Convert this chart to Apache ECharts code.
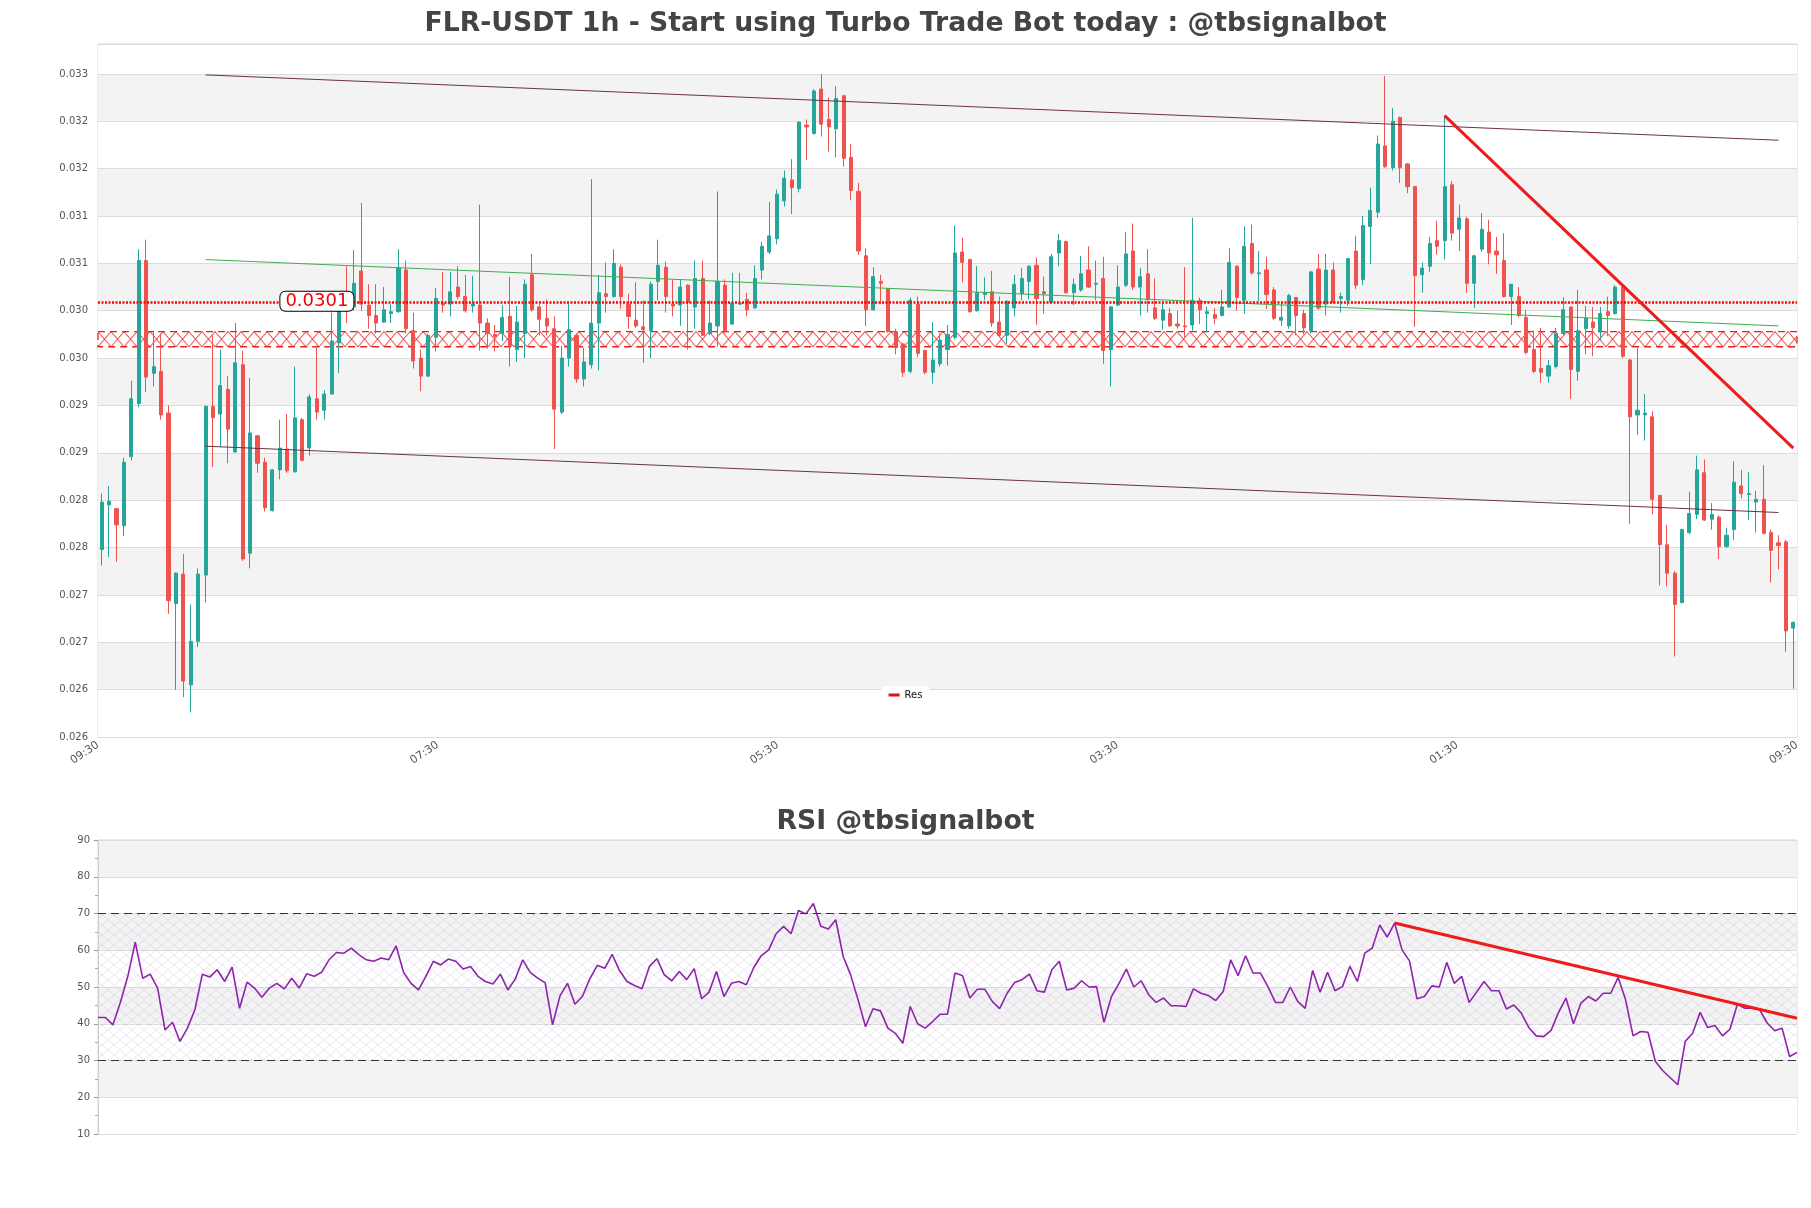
<!DOCTYPE html>
<html><head><meta charset="utf-8">
<script src="https://cdn.jsdelivr.net/npm/echarts@6/dist/echarts.min.js"></script>
<style>html,body{margin:0;padding:0;background:#fff}#c{width:1811px;height:1208px}</style>
</head><body><div id="c"></div>
<script>
const opens = [.02748,.02795,.02791,.02773,.02846,.02902,.03053,.02934,.02936,.02892,.02691,.02722,.02605,.02651,.02721,.02899,.02891,.02917,.02851,.02943,.02744,.02868,.02840,.02789,.02832,.02854,.02830,.02885,.02855,.02907,.02895,.02912,.02966,.03009,.03004,.03042,.03006,.02995,.02988,.02997,.02999,.03043,.02979,.02950,.02931,.02972,.03008,.03007,.03025,.03015,.03005,.03006,.02987,.02975,.02976,.02994,.02959,.02976,.03038,.03004,.02992,.02981,.02893,.02950,.02974,.02928,.02943,.02987,.03018,.03015,.03046,.03007,.02990,.02983,.02979,.03031,.03046,.03007,.03006,.03027,.03004,.03034,.02976,.02984,.03027,.02986,.03007,.03012,.03003,.03043,.03062,.03076,.03116,.03138,.03129,.03196,.03187,.03234,.03202,.03192,.03227,.03162,.03126,.03058,.03001,.03031,.03023,.02978,.02965,.02936,.03007,.02958,.02935,.02944,.02959,.02972,.03062,.03054,.03000,.03017,.03020,.02988,.02974,.03003,.03018,.03031,.03048,.03020,.03009,.03061,.03073,.03019,.03022,.03043,.03028,.03034,.02959,.03006,.03027,.03063,.03025,.03039,.03003,.02990,.02997,.02986,.02984,.02985,.03011,.02997,.02996,.02995,.03004,.03047,.03011,.03071,.03039,.03043,.03022,.02990,.02984,.03014,.02997,.02979,.03044,.03007,.03043,.03013,.03011,.03063,.03033,.03089,.03104,.03174,.03151,.03204,.03155,.03131,.03038,.03047,.03074,.03074,.03133,.03086,.03097,.03029,.03065,.03083,.03063,.03053,.03015,.03015,.02993,.02959,.02939,.02931,.02941,.02976,.03004,.02936,.02981,.02988,.02979,.02999,.02997,.03025,.02948,.02890,.02890,.02888,.02805,.02753,.02723,.02692,.02766,.02785,.02829,.02780,.02782,.02751,.02769,.02815,.02806,.02798,.02801,.02766,.02755,.02756,.02665];
const closes = [.02798,.02799,.02774,.02840,.02907,.03053,.02930,.02941,.02890,.02694,.02723,.02609,.02651,.02722,.02899,.02887,.02921,.02875,.02945,.02738,.02871,.02839,.02792,.02832,.02855,.02831,.02887,.02842,.02909,.02893,.02912,.02968,.03004,.03003,.03029,.03007,.02995,.02987,.03001,.02999,.03045,.02981,.02947,.02931,.02974,.03013,.03006,.03020,.03015,.03000,.03007,.02987,.02976,.02973,.02993,.02963,.02988,.03028,.03001,.02991,.02984,.02896,.02950,.02980,.02928,.02946,.02987,.03019,.03015,.03050,.03015,.02994,.02984,.02980,.03028,.03048,.03015,.03005,.03025,.03009,.03034,.02974,.02987,.03031,.02979,.03008,.03008,.03001,.03034,.03068,.03079,.03123,.03140,.03130,.03199,.03194,.03232,.03197,.03194,.03224,.03161,.03127,.03063,.03001,.03036,.03029,.02978,.02961,.02935,.03011,.02955,.02935,.02948,.02969,.02975,.03061,.03051,.02999,.03019,.03019,.02987,.02974,.03010,.03028,.03034,.03047,.03013,.03018,.03057,.03074,.03019,.03028,.03039,.03025,.03029,.02958,.03004,.03025,.03060,.03025,.03036,.03012,.02992,.03001,.02984,.02984,.02983,.03011,.03001,.02999,.02992,.03004,.03051,.03014,.03068,.03040,.03040,.03017,.02992,.02993,.03016,.02995,.02982,.03041,.03003,.03043,.03009,.03015,.03055,.03027,.03090,.03106,.03176,.03152,.03200,.03151,.03131,.03037,.03045,.03071,.03068,.03131,.03082,.03098,.03029,.03058,.03086,.03061,.03059,.03015,.03028,.02995,.02956,.02936,.02935,.02942,.02976,.03001,.02938,.02979,.02992,.02982,.02997,.02995,.03025,.02952,.02888,.02895,.02892,.02801,.02753,.02723,.02690,.02769,.02786,.02832,.02779,.02785,.02751,.02763,.02819,.02807,.02807,.02801,.02765,.02747,.02752,.02662,.02671];
const highs = [.02807,.02815,.02792,.02845,.02926,.03065,.03075,.02979,.02976,.02900,.02724,.02743,.02690,.02728,.02900,.02974,.02959,.02931,.02987,.02958,.02929,.02869,.02845,.02833,.02885,.02891,.02941,.02887,.02912,.02963,.02916,.02998,.03007,.03047,.03064,.03114,.03028,.03028,.03025,.03007,.03065,.03053,.02998,.02959,.02976,.03024,.03041,.03041,.03047,.03038,.03037,.03112,.02992,.02985,.03006,.03036,.03005,.03033,.03060,.03007,.03012,.02994,.02963,.03007,.02976,.02961,.03139,.03038,.03051,.03065,.03049,.03018,.03030,.03011,.03031,.03075,.03052,.03033,.03033,.03028,.03053,.03053,.03011,.03126,.03033,.03040,.03040,.03019,.03048,.03073,.03115,.03128,.03148,.03160,.03200,.03202,.03234,.03250,.03225,.03237,.03228,.03176,.03135,.03066,.03046,.03038,.03024,.02981,.02966,.03014,.03015,.02959,.02988,.02976,.02985,.03090,.03077,.03055,.03047,.03035,.03042,.03015,.03011,.03038,.03045,.03048,.03056,.03036,.03060,.03081,.03074,.03034,.03058,.03068,.03053,.03057,.03005,.03048,.03083,.03092,.03045,.03065,.03034,.03008,.03003,.03000,.03046,.03098,.03014,.03004,.03003,.03022,.03066,.03048,.03089,.03091,.03063,.03057,.03025,.03008,.03018,.03014,.03001,.03042,.03060,.03060,.03051,.03019,.03056,.03079,.03100,.03130,.03185,.03248,.03214,.03205,.03156,.03132,.03051,.03078,.03095,.03206,.03137,.03112,.03099,.03059,.03103,.03096,.03078,.03082,.03028,.03025,.03001,.02979,.02982,.02948,.02982,.03014,.03004,.03022,.03005,.03004,.03004,.03015,.03027,.03027,.02949,.02961,.02912,.02894,.02805,.02774,.02725,.02770,.02809,.02847,.02843,.02797,.02784,.02771,.02841,.02832,.02830,.02810,.02837,.02769,.02763,.02758,.02672];
const lows = [.02731,.02740,.02735,.02762,.02842,.02898,.02914,.02920,.02885,.02680,.02600,.02592,.02576,.02645,.02692,.02835,.02856,.02839,.02850,.02736,.02728,.02829,.02788,.02788,.02822,.02829,.02829,.02841,.02847,.02885,.02885,.02912,.02934,.02987,.03000,.03000,.02981,.02976,.02987,.02987,.02998,.02976,.02939,.02915,.02930,.02957,.02998,.02994,.03012,.02998,.02998,.02958,.02960,.02957,.02968,.02941,.02946,.02950,.02999,.02974,.02974,.02854,.02891,.02941,.02924,.02920,.02939,.02937,.02998,.03014,.03002,.02981,.02982,.02945,.02950,.03011,.02998,.02994,.02984,.02959,.02981,.02974,.02974,.02962,.02976,.02985,.03006,.02994,.03002,.03033,.03060,.03070,.03110,.03102,.03125,.03159,.03186,.03184,.03168,.03162,.03152,.03117,.03059,.02984,.03000,.03007,.02977,.02954,.02930,.02934,.02951,.02933,.02923,.02941,.02942,.02970,.03030,.02998,.02999,.03011,.02983,.02973,.02965,.02994,.03011,.03012,.02985,.02997,.03008,.03047,.03018,.03006,.03020,.03024,.03011,.02944,.02920,.03005,.03025,.03022,.02995,.02998,.02990,.02980,.02983,.02981,.02972,.02979,.02986,.02977,.02986,.02994,.03003,.03000,.02997,.03038,.03010,.03002,.02990,.02984,.02981,.02974,.02975,.02976,.03001,.02995,.03007,.02998,.03005,.03023,.03027,.03049,.03098,.03151,.03148,.03135,.03124,.02983,.03019,.03041,.03059,.03054,.03074,.03063,.03019,.03003,.03062,.03049,.03039,.03014,.02985,.02993,.02954,.02934,.02924,.02924,.02939,.02974,.02907,.02926,.02954,.02952,.02969,.02973,.02996,.02950,.02775,.02869,.02863,.02785,.02710,.02709,.02635,.02691,.02764,.02780,.02778,.02769,.02738,.02750,.02758,.02802,.02779,.02766,.02764,.02713,.02727,.02640,.02601];
const rsi = [41.7,41.7,39.7,45.8,52.9,62.2,52.4,53.5,49.7,38.3,40.4,35.2,38.8,43.8,53.5,52.7,54.7,51.5,55.4,44.2,51.3,49.7,47.2,49.7,51.0,49.5,52.4,49.7,53.6,52.9,54.0,57.4,59.4,59.2,60.6,58.8,57.4,57.0,57.9,57.4,61.2,54.0,51.0,49.2,52.9,57.0,56.0,57.6,57.0,54.9,55.6,52.9,51.5,50.8,53.5,49.2,52.2,57.4,54.0,52.4,51.2,39.7,47.6,51.0,45.3,47.4,52.2,55.9,55.1,58.9,54.4,51.5,50.4,49.5,55.6,57.7,53.3,51.7,54.2,52.0,55.0,46.8,48.6,54.2,47.4,51.0,51.5,50.6,55.3,58.5,60.1,64.5,66.5,64.5,70.8,69.9,72.7,66.5,65.8,68.3,58.3,53.3,46.5,39.2,44.1,43.5,38.8,37.4,34.7,44.7,40.0,38.8,40.6,42.6,42.6,53.8,53.1,47.0,49.4,49.4,46.1,44.1,48.3,51.2,52.0,53.5,49.0,48.6,54.7,57.0,49.2,49.7,51.7,50.0,50.1,40.4,47.4,50.9,54.9,50.0,51.7,47.9,45.8,47.0,44.9,44.9,44.7,49.5,48.3,47.7,46.3,48.8,57.4,53.1,58.5,53.8,53.8,50.1,45.8,45.8,50.0,46.1,44.2,54.5,48.6,54.0,49.0,50.1,55.6,51.5,59.2,60.6,66.9,63.6,67.4,60.1,57.1,46.8,47.4,50.3,50.0,56.7,51.0,52.9,45.8,48.6,51.5,49.0,49.0,44.0,45.1,42.9,39.0,36.7,36.5,38.2,43.1,47.0,40.0,45.6,47.4,46.2,48.3,48.3,52.6,46.5,36.7,37.9,37.7,29.7,27.2,25.3,23.4,35.2,37.4,43.1,39.0,39.5,36.7,38.5,45.3,44.2,44.2,43.8,40.2,38.1,38.8,31.1,32.2];

const xTickLabels = ['09:30', '07:30', '05:30', '03:30', '01:30', '09:30'];
const priceTickLabels = ['0.026','0.026','0.027','0.027','0.028','0.028','0.029','0.029','0.030','0.030','0.031','0.031','0.032','0.032','0.033'];
const priceMin = 0.0255, priceMax = 0.032816, priceStep = 0.0005;
const resLevel = 0.03009, resLabel = '0.0301';
const zoneHigh = 0.02978, zoneLow = 0.02962;
const channelUpper = [[14, 0.03249], [226, 0.03180]];
const channelMid = [[14, 0.03054], [226, 0.02984]];
const channelLower = [[14, 0.02857], [226, 0.02787]];
const priceTrend = [[181, 0.03206], [228, 0.02855]];
const rsiTrend = [[174, 67.4], [228, 41.5]];
const rsiLevels = [70, 30];

const idx = opens.map((_, i) => String(i));
const candleData = opens.map((o, i) => [o, closes[i], lows[i], highs[i]]);

function tile(w, h, color, lw) {
  const c = document.createElement('canvas'); c.width = w; c.height = h;
  const g = c.getContext('2d'); g.strokeStyle = color; g.lineWidth = lw;
  g.beginPath(); g.moveTo(0, 0); g.lineTo(w, h); g.moveTo(w, 0); g.lineTo(0, h); g.stroke();
  return c;
}
const rsiPattern = {image: tile(12, 10, 'rgba(185,165,210,0.42)', 0.7), repeat: 'repeat'};

const FONT = 'DejaVu Sans';
const bands = ['#ffffff', '#f3f3f3'];
const titleStyle = {fontFamily: FONT, fontSize: 26.7, fontWeight: 'bold', color: '#444'};

const chart = echarts.init(document.getElementById('c'), null, {renderer: 'canvas', width: 1811, height: 1208});
const option = {
  animation: false,
  backgroundColor: '#ffffff',
  title: [
    {text: 'FLR-USDT 1h - Start using Turbo Trade Bot today : @tbsignalbot', left: 'center', top: 11, padding: 0, textStyle: titleStyle},
    {text: 'RSI @tbsignalbot', left: 'center', top: 809, padding: 0, textStyle: titleStyle}
  ],
  legend: {data: [{name: 'Res', icon: 'rect'}], left: 'center', top: 686, itemWidth: 11, itemHeight: 3, itemGap: 6,
    padding: [4, 7], backgroundColor: '#ffffff', borderRadius: 3, selectedMode: false,
    textStyle: {fontFamily: FONT, fontSize: 10, color: '#111'}},
  grid: [
    {left: 98, top: 44, width: 1699, height: 693, show: true, borderColor: '#d6d6d6', borderWidth: 1, containLabel: false, outerBoundsMode: 'none'},
    {left: 98, top: 840, width: 1699, height: 294, show: true, borderColor: '#d6d6d6', borderWidth: 1, containLabel: false, outerBoundsMode: 'none'}
  ],
  xAxis: [
    {type: 'category', gridIndex: 0, data: idx, boundaryGap: true, axisLine: {show: false}, axisTick: {show: false}, axisLabel: {show: false}, splitLine: {show: false}},
    {type: 'value', gridIndex: 0, min: 0, max: 5, interval: 1, position: 'bottom', axisLine: {show: false}, axisTick: {show: false}, splitLine: {show: false},
      axisLabel: {formatter: v => xTickLabels[Math.round(v)] || '', rotate: 34, fontSize: 11, color: '#555', margin: 7, fontFamily: FONT}},
    {type: 'category', gridIndex: 1, data: idx, boundaryGap: false, axisLine: {show: false}, axisTick: {show: false}, axisLabel: {show: false}, splitLine: {show: false}}
  ],
  yAxis: [
    {type: 'value', gridIndex: 0, min: priceMin, max: priceMax, interval: priceStep, scale: true,
      axisLine: {show: false}, axisTick: {show: false},
      axisLabel: {fontSize: 10, color: '#555', margin: 10, fontFamily: FONT, formatter: v => {
        const k = Math.round((v - priceMin) / priceStep);
        if (Math.abs(v - (priceMin + k * priceStep)) > 1e-7) return '';
        return priceTickLabels[k] || '';
      }},
      splitLine: {show: true, lineStyle: {color: '#dcdcdc', width: 1}},
      splitArea: {show: true, areaStyle: {color: bands}}},
    {type: 'value', gridIndex: 1, min: 10, max: 90, interval: 10,
      axisLine: {show: true, lineStyle: {color: '#cfcfcf'}}, axisTick: {show: true, length: 4, lineStyle: {color: '#999'}},
      minorTick: {show: true, splitNumber: 2, length: 3, lineStyle: {color: '#aaa'}},
      axisLabel: {fontSize: 10, color: '#555', margin: 8, fontFamily: FONT},
      splitLine: {show: true, lineStyle: {color: '#dcdcdc', width: 1}},
      splitArea: {show: true, areaStyle: {color: bands}}}
  ],
  series: [
    {type: 'candlestick', name: 'FLR-USDT', xAxisIndex: 0, yAxisIndex: 0, data: candleData, barWidth: 3.6, z: 2,
      itemStyle: {color: '#26a69a', color0: '#ef5350', borderColor: '#26a69a', borderColor0: '#ef5350', borderWidth: 1}},
    {id: 'res', name: 'Res', type: 'line', xAxisIndex: 0, yAxisIndex: 0, data: [], color: '#e01010', z: 6, symbol: 'none',
      markLine: {silent: true, precision: 6, symbol: 'none', label: {show: false}, lineStyle: {color: '#f00', width: 2.5, type: [2, 1.5], opacity: 1}, data: [{yAxis: resLevel}]},
      markArea: {silent: true, itemStyle: {color: 'rgba(0,0,0,0)', borderColor: '#e82020', borderWidth: 1.3, borderType: [7, 5]}, data: [[{yAxis: zoneHigh}, {yAxis: zoneLow}]]},
      markPoint: {silent: true, symbol: 'rect', symbolSize: 1, itemStyle: {color: 'rgba(0,0,0,0)'},
        data: [{coord: [29, resLevel], value: resLevel}],
        label: {show: true, position: 'inside', formatter: () => resLabel, color: '#e00', fontSize: 18, fontFamily: FONT,
          backgroundColor: '#ffffff', borderColor: '#000', borderWidth: 1, borderRadius: 5, padding: [1, 5, 0, 5], offset: [0, -1]}}},
    {type: 'line', name: 'upper', xAxisIndex: 0, yAxisIndex: 0, data: channelUpper, symbol: 'none', silent: true, z: 4, lineStyle: {color: '#6e2f45', width: 1}},
    {type: 'line', name: 'mid', xAxisIndex: 0, yAxisIndex: 0, data: channelMid, symbol: 'none', silent: true, z: 4, lineStyle: {color: '#3fae4f', width: 1}},
    {type: 'line', name: 'lower', xAxisIndex: 0, yAxisIndex: 0, data: channelLower, symbol: 'none', silent: true, z: 4, lineStyle: {color: '#6e2f45', width: 1}},
    {type: 'line', name: 'trend', xAxisIndex: 0, yAxisIndex: 0, data: priceTrend, symbol: 'none', silent: true, z: 7, lineStyle: {color: '#ee1c1c', width: 3}},
    {type: 'line', name: 'RSI', xAxisIndex: 2, yAxisIndex: 1, data: rsi, symbol: 'none', z: 4, lineStyle: {color: '#8e24aa', width: 1.6}, itemStyle: {color: '#8e24aa'},
      markArea: {silent: true, itemStyle: {color: rsiPattern}, data: [[{yAxis: rsiLevels[0]}, {yAxis: rsiLevels[1]}]]},
      markLine: {silent: true, symbol: 'none', label: {show: false}, lineStyle: {color: '#333', type: [8, 5], width: 1.2}, data: rsiLevels.map(v => ({yAxis: v}))}},
    {type: 'line', name: 'rsiTrend', xAxisIndex: 2, yAxisIndex: 1, data: rsiTrend, symbol: 'none', silent: true, z: 6, lineStyle: {color: '#ee1c1c', width: 3}}
  ]
};
chart.setOption(option);

// align the hatch of the zone with its band, using the library's own scales
const gx = chart.convertToPixel({xAxisIndex: 1}, 0);
const yT = chart.convertToPixel({yAxisIndex: 0}, zoneHigh);
const yB = chart.convertToPixel({yAxisIndex: 0}, zoneLow);
const zonePattern = {image: tile(13, 14, '#e32020', 1), repeat: 'repeat', x: gx, y: yT, scaleY: (yB - yT) / 14};
chart.setOption({series: [{id: 'res', markArea: {itemStyle: {color: zonePattern}}}]});
</script>
</body></html>
